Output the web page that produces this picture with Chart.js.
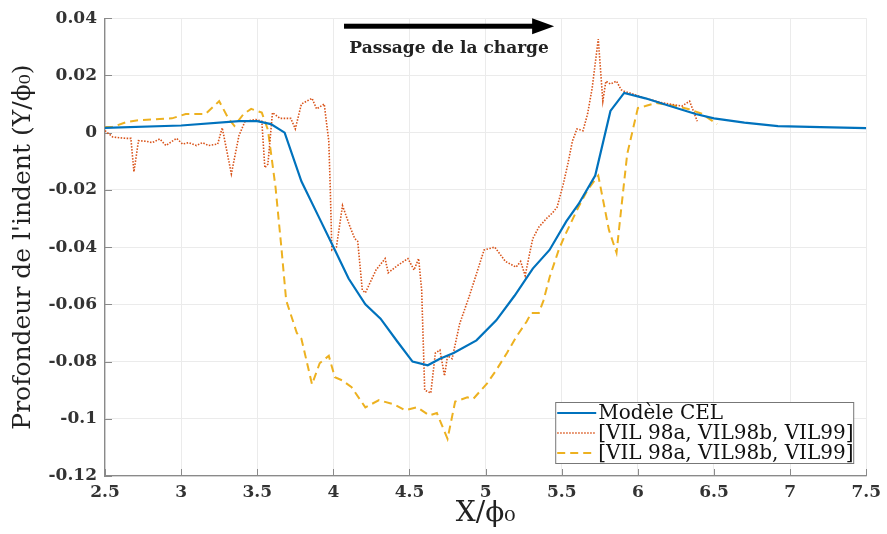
<!DOCTYPE html>
<html>
<head>
<meta charset="utf-8">
<script src="https://cdn.jsdelivr.net/npm/chart.js@4.4.0/dist/chart.umd.min.js"></script>
<style>
  html, body { margin: 0; padding: 0; background: #fff; }
</style>
</head>
<body>
<canvas id="chart" width="887" height="534"></canvas>
<script>
// axes
const xTickLabels = ['2.5', '3', '3.5', '4', '4.5', '5', '5.5', '6', '6.5', '7', '7.5'];
const yTickLabels = ['-0.12', '-0.1', '-0.08', '-0.06', '-0.04', '-0.02', '0', '0.02', '0.04'];
const seriesNames = ['Modèle CEL', '[VIL 98a, VIL98b, VIL99]', '[VIL 98a, VIL98b, VIL99]'];

// Modèle CEL
const celX = [2.5, 3.0, 3.38, 3.5, 3.59, 3.68, 3.79, 3.9, 4.01, 4.1,
  4.21, 4.31, 4.42, 4.52, 4.62, 4.7, 4.79, 4.94, 5.07, 5.19,
  5.31, 5.42, 5.53, 5.61, 5.72, 5.82, 5.91, 6.05, 6.2, 6.38,
  6.5, 6.7, 6.92, 7.2, 7.5];
const celY = [0.0017, 0.0025, 0.004, 0.004, 0.003, 0.0, -0.017, -0.029, -0.041, -0.051,
  -0.060, -0.065, -0.073, -0.080, -0.0813, -0.079, -0.077, -0.0726, -0.0656, -0.057,
  -0.0475, -0.041, -0.031, -0.025, -0.015, 0.0076, 0.0139, 0.012, 0.0095, 0.0065,
  0.005, 0.0035, 0.0023, 0.0019, 0.0016];

// mesures, courbe pointillée
const vilAX = [2.5, 2.55, 2.6, 2.64, 2.67, 2.69, 2.72, 2.77, 2.81, 2.86,
  2.9, 2.97, 3.01, 3.05, 3.1, 3.14, 3.18, 3.24, 3.27, 3.33,
  3.38, 3.42, 3.49, 3.53, 3.55, 3.57, 3.6, 3.65, 3.72, 3.75,
  3.79, 3.86, 3.89, 3.94, 3.97, 3.98, 3.99, 4.02, 4.06, 4.11,
  4.14, 4.16, 4.19, 4.21, 4.28, 4.34, 4.36, 4.42, 4.49, 4.53,
  4.56, 4.58, 4.6, 4.64, 4.67, 4.7, 4.73, 4.75, 4.78, 4.83,
  4.89, 4.93, 4.99, 5.06, 5.13, 5.2, 5.23, 5.26, 5.29, 5.31,
  5.35, 5.4, 5.44, 5.47, 5.51, 5.54, 5.57, 5.6, 5.64, 5.67,
  5.7, 5.74, 5.77, 5.79, 5.82, 5.86, 5.89, 5.91, 6.05, 6.16,
  6.29, 6.34, 6.39];
const vilAY = [0.0007, -0.0015, -0.0018, -0.002, -0.002, -0.0137, -0.0028, -0.003, -0.0035, -0.0022,
  -0.0045, -0.002, -0.004, -0.0035, -0.0045, -0.0035, -0.0045, -0.004, 0.0017, -0.0144,
  -0.001, 0.004, 0.0046, 0.004, -0.0123, -0.011, 0.007, 0.005, 0.005, 0.0013,
  0.01, 0.012, 0.0083, 0.01, -0.003, -0.02, -0.041, -0.040, -0.0255, -0.033,
  -0.037, -0.038, -0.055, -0.056, -0.048, -0.044, -0.049, -0.0465, -0.044, -0.048,
  -0.044, -0.055, -0.090, -0.091, -0.077, -0.076, -0.085, -0.078, -0.079, -0.0667,
  -0.0576, -0.051, -0.041, -0.040, -0.045, -0.047, -0.045, -0.050, -0.042, -0.037,
  -0.033, -0.030, -0.028, -0.026, -0.018, -0.011, -0.003, 0.0013, 0.0007, 0.0066,
  0.0156, 0.0327, 0.011, 0.018, 0.017, 0.018, 0.015, 0.0145, 0.012, 0.0104,
  0.0093, 0.011, 0.004];

// mesures, courbe tiretée
const vilBX = [2.5, 2.55, 2.64, 2.73, 2.86, 2.94, 3.03, 3.16, 3.25, 3.31,
  3.35, 3.41, 3.46, 3.53, 3.57, 3.62, 3.66, 3.69, 3.76, 3.79,
  3.86, 3.91, 3.97, 4.01, 4.06, 4.12, 4.21, 4.3, 4.4, 4.47,
  4.55, 4.63, 4.68, 4.75, 4.8, 4.88, 4.92, 5.01, 5.07, 5.14,
  5.2, 5.27, 5.3, 5.35, 5.38, 5.42, 5.48, 5.52, 5.61, 5.67,
  5.74, 5.81, 5.86, 5.89, 5.93, 6.0, 6.05, 6.12, 6.25, 6.33,
  6.42, 6.52];
const vilBY = [0.002, 0.002, 0.0037, 0.0044, 0.0048, 0.005, 0.0065, 0.0065, 0.011, 0.005,
  0.0024, 0.0065, 0.0083, 0.007, 0.001, -0.019, -0.041, -0.0586, -0.070, -0.072,
  -0.088, -0.0806, -0.078, -0.0855, -0.0866, -0.089, -0.096, -0.0935, -0.095, -0.097,
  -0.096, -0.0988, -0.098, -0.107, -0.094, -0.0925, -0.093, -0.0876, -0.083, -0.077,
  -0.0715, -0.066, -0.063, -0.063, -0.0587, -0.0506, -0.041, -0.036, -0.026, -0.020,
  -0.015, -0.034, -0.042, -0.027, -0.0075, 0.0086, 0.0093, 0.0104, 0.0093, 0.0083,
  0.0066, 0.003];

function pts(xs, ys) {
  return xs.map((x, i) => ({x: x, y: ys[i]}));
}

const serif = "'DejaVu Serif', 'Liberation Serif', serif";

// petits traits de graduation vers l'intérieur, comme matlab
const insideTicks = {
  id: 'insideTicks',
  beforeDatasetsDraw(chart) {
    const {ctx, chartArea: a, scales} = chart;
    ctx.save();
    ctx.strokeStyle = '#8a8a8a';
    ctx.lineWidth = 1;
    ctx.beginPath();
    scales.x.ticks.forEach(t => {
      const px = Math.round(scales.x.getPixelForValue(t.value)) + 0.5;
      ctx.moveTo(px, a.bottom);
      ctx.lineTo(px, a.bottom - 7);
    });
    scales.y.ticks.forEach(t => {
      const py = Math.round(scales.y.getPixelForValue(t.value)) + 0.5;
      ctx.moveTo(a.left, py);
      ctx.lineTo(a.left + 7, py);
    });
    ctx.stroke();
    ctx.restore();
  }
};

// flèche "Passage de la charge"
const arrow = {
  id: 'arrow',
  afterDraw(chart) {
    const {ctx, scales} = chart;
    const x0 = scales.x.getPixelForValue(4.07);
    const x1 = scales.x.getPixelForValue(5.45);
    const y = scales.y.getPixelForValue(0.0372);
    ctx.save();
    ctx.fillStyle = '#000';
    ctx.fillRect(x0, y - 2.5, x1 - x0 - 18, 5);
    ctx.beginPath();
    ctx.moveTo(x1, y);
    ctx.lineTo(x1 - 22, y - 8);
    ctx.lineTo(x1 - 22, y + 8);
    ctx.closePath();
    ctx.fill();
    ctx.font = "bold 17px " + serif;
    ctx.textAlign = 'center';
    ctx.textBaseline = 'middle';
    ctx.fillStyle = '#222';
    ctx.fillText('Passage de la charge', (x0 + x1) / 2, scales.y.getPixelForValue(0.0295));
    ctx.restore();
  }
};

// légende dans le coin bas droit
const boxLegend = {
  id: 'boxLegend',
  afterDraw(chart) {
    const {ctx, chartArea: a} = chart;
    const w = 298, h = 61;
    const left = a.right - 13 - w, top = a.bottom - 13 - h;
    ctx.save();
    ctx.fillStyle = '#fff';
    ctx.fillRect(left, top, w, h);
    ctx.strokeStyle = '#777';
    ctx.lineWidth = 1;
    ctx.strokeRect(left + 0.5, top + 0.5, w, h);
    ctx.font = "20px " + serif;
    ctx.textBaseline = 'middle';
    ctx.fillStyle = '#111';
    chart.data.datasets.forEach((ds, i) => {
      const cy = top + 11 + i * 20;
      ctx.strokeStyle = ds.borderColor;
      ctx.lineWidth = ds.borderWidth;
      ctx.setLineDash(ds.borderDash || []);
      ctx.beginPath();
      ctx.moveTo(left + 2, cy);
      ctx.lineTo(left + 41, cy);
      ctx.stroke();
      ctx.setLineDash([]);
      ctx.fillText(ds.label, left + 43, cy + 1);
    });
    ctx.restore();
  }
};

new Chart(document.getElementById('chart'), {
  type: 'line',
  data: {
    datasets: [
      {
        label: seriesNames[0],
        data: pts(celX, celY),
        borderColor: '#0072BD',
        borderWidth: 2.2,
        pointRadius: 0,
        tension: 0
      },
      {
        label: seriesNames[1],
        data: pts(vilAX, vilAY),
        borderColor: '#D95319',
        borderWidth: 1.6,
        borderDash: [1.5, 1.5],
        pointRadius: 0,
        tension: 0
      },
      {
        label: seriesNames[2],
        data: pts(vilBX, vilBY),
        borderColor: '#EDB120',
        borderWidth: 2,
        borderDash: [8, 5],
        pointRadius: 0,
        tension: 0
      }
    ]
  },
  options: {
    responsive: false,
    animation: false,
    layout: {padding: {top: 17, right: 15, left: 0, bottom: 0}},
    plugins: {
      legend: {display: false},
      tooltip: {enabled: false}
    },
    scales: {
      x: {
        type: 'linear',
        min: 2.5,
        max: 7.5,
        afterFit(s) { s.height = 58; },
        ticks: {
          stepSize: 0.5,
          padding: 6,
          color: '#333',
          font: {family: serif, size: 17, weight: 'bold'},
          callback: (v, i) => xTickLabels[i]
        },
        grid: {color: '#ebebeb', drawTicks: false},
        border: {color: '#8a8a8a', width: 1.3},
        title: {
          display: true,
          text: 'X/ϕ₀',
          color: '#222',
          font: {family: serif, size: 28},
          padding: {top: 0, bottom: 3}
        }
      },
      y: {
        min: -0.12,
        max: 0.04,
        afterFit(s) { s.width = 105; },
        ticks: {
          stepSize: 0.02,
          padding: 8,
          color: '#333',
          font: {family: serif, size: 17, weight: 'bold'},
          callback: (v, i) => yTickLabels[i]
        },
        grid: {color: '#ebebeb', drawTicks: false},
        border: {color: '#8a8a8a', width: 1.3},
        title: {
          display: true,
          text: "Profondeur de l'indent (Y/ϕ₀)",
          color: '#222',
          font: {family: serif, size: 25},
          padding: {top: 8, bottom: 0}
        }
      }
    }
  },
  plugins: [insideTicks, arrow, boxLegend]
});
</script>
</body>
</html>
